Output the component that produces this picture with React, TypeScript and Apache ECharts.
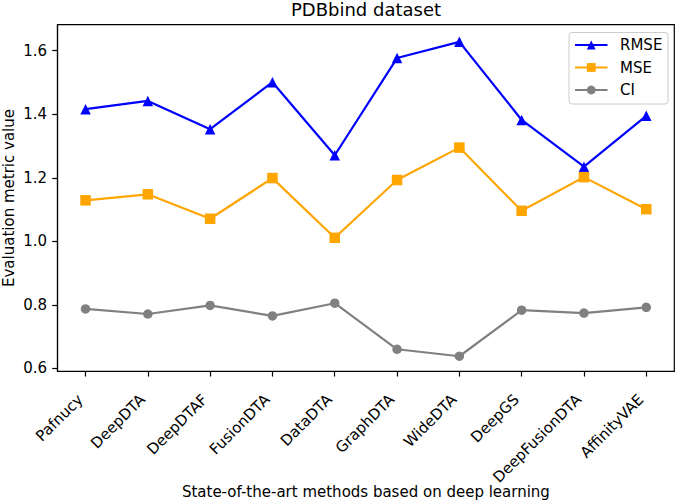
import React, { useEffect, useRef } from "react";
import * as echarts from "echarts";

const categories = [
  "Pafnucy",
  "DeepDTA",
  "DeepDTAF",
  "FusionDTA",
  "DataDTA",
  "GraphDTA",
  "WideDTA",
  "DeepGS",
  "DeepFusionDTA",
  "AffinityVAE",
];
const rmse = [1.416, 1.442, 1.353, 1.501, 1.271, 1.577, 1.628, 1.382, 1.235, 1.395];
const mse = [1.129, 1.148, 1.071, 1.199, 1.011, 1.193, 1.295, 1.096, 1.202, 1.101];
const ci = [0.787, 0.771, 0.798, 0.765, 0.805, 0.66, 0.638, 0.783, 0.774, 0.792];
const yTicks = [0.6, 0.8, 1.0, 1.2, 1.4, 1.6];
const xTicks = categories.map((_, i) => i);

const FONT = "DejaVu Sans";
const FS = 15;

export default function App() {
  const ref = useRef<HTMLDivElement>(null);
  useEffect(() => {
    document.body.style.margin = "0";
    const chart = echarts.init(ref.current!, null, { renderer: "svg" });
    const mk = (name: string, data: number[], color: string, symbol: string, size: number) => ({
      name,
      type: "line",
      data: data.map((v, i) => [i, v]),
      symbol,
      symbolSize: size,
      lineStyle: { color, width: 2.2 },
      itemStyle: { color },
      z: 3,
    });
    chart.setOption({
      animation: false,
      backgroundColor: "#ffffff",
      title: {
        text: "PDBbind dataset",
        left: 366,
        top: 0,
        padding: 0,
        textAlign: "center",
        textStyle: { fontFamily: FONT, fontSize: 18, fontWeight: "normal", color: "#000" },
      },
      legend: {
        orient: "vertical",
        left: 569,
        top: 32.5,
        padding: [5, 5.6, 6.5, 5],
        itemGap: 7.5,
        itemWidth: 32.5,
        itemHeight: 11,
        backgroundColor: "rgba(255,255,255,0.8)",
        borderColor: "#cccccc",
        borderWidth: 1,
        borderRadius: 3,
        textStyle: { fontFamily: FONT, fontSize: FS, color: "#000", padding: [0, 0, 0, 7.5] },
        data: ["RMSE", "MSE", "CI"],
      },
      grid: {
        left: 57.5,
        top: 24.7,
        right: 3.7,
        bottom: 129.7,
        containLabel: false,
        outerBoundsMode: "none",
        show: true,
        borderColor: "#000",
        borderWidth: 1.2,
      },
      xAxis: {
        type: "value",
        min: -0.45,
        max: 9.45,
        name: "State-of-the-art methods based on deep learning",
        nameLocation: "middle",
        nameGap: 113,
        nameMoveOverlap: false,
        nameTextStyle: { fontFamily: FONT, fontSize: FS, color: "#000" },
        axisLine: { show: true, onZero: false, lineStyle: { color: "#000", width: 1.2 } },
        axisTick: { show: true, length: 5.25, customValues: xTicks, lineStyle: { color: "#000", width: 1.2 } },
        axisLabel: {
          customValues: xTicks,
          rotate: 45,
          margin: 31,
          verticalAlign: "bottom",
          fontFamily: FONT,
          fontSize: FS,
          color: "#000",
          formatter: (v: number) => categories[Math.round(v)] ?? "",
        },
        splitLine: { show: false },
      },
      yAxis: {
        type: "value",
        min: 0.5906,
        max: 1.682,
        name: "Evaluation metric value",
        nameLocation: "middle",
        nameGap: 41,
        nameMoveOverlap: false,
        nameTextStyle: { fontFamily: FONT, fontSize: FS, color: "#000" },
        axisLine: { show: true, onZero: false, lineStyle: { color: "#000", width: 1.2 } },
        axisTick: { show: true, length: 5.25, customValues: yTicks, lineStyle: { color: "#000", width: 1.2 } },
        axisLabel: {
          customValues: yTicks,
          margin: 10.5,
          fontFamily: FONT,
          fontSize: FS,
          color: "#000",
          formatter: (v: number) => v.toFixed(1),
        },
        splitLine: { show: false },
      },
      series: [
        mk("RMSE", rmse, "#0000ff", "triangle", 10.5),
        mk("MSE", mse, "#ffa500", "rect", 10.5),
        mk("CI", ci, "#808080", "circle", 9.5),
      ],
    });
    return () => chart.dispose();
  }, []);
  return <div ref={ref} style={{ width: 678, height: 501 }} />;
}
